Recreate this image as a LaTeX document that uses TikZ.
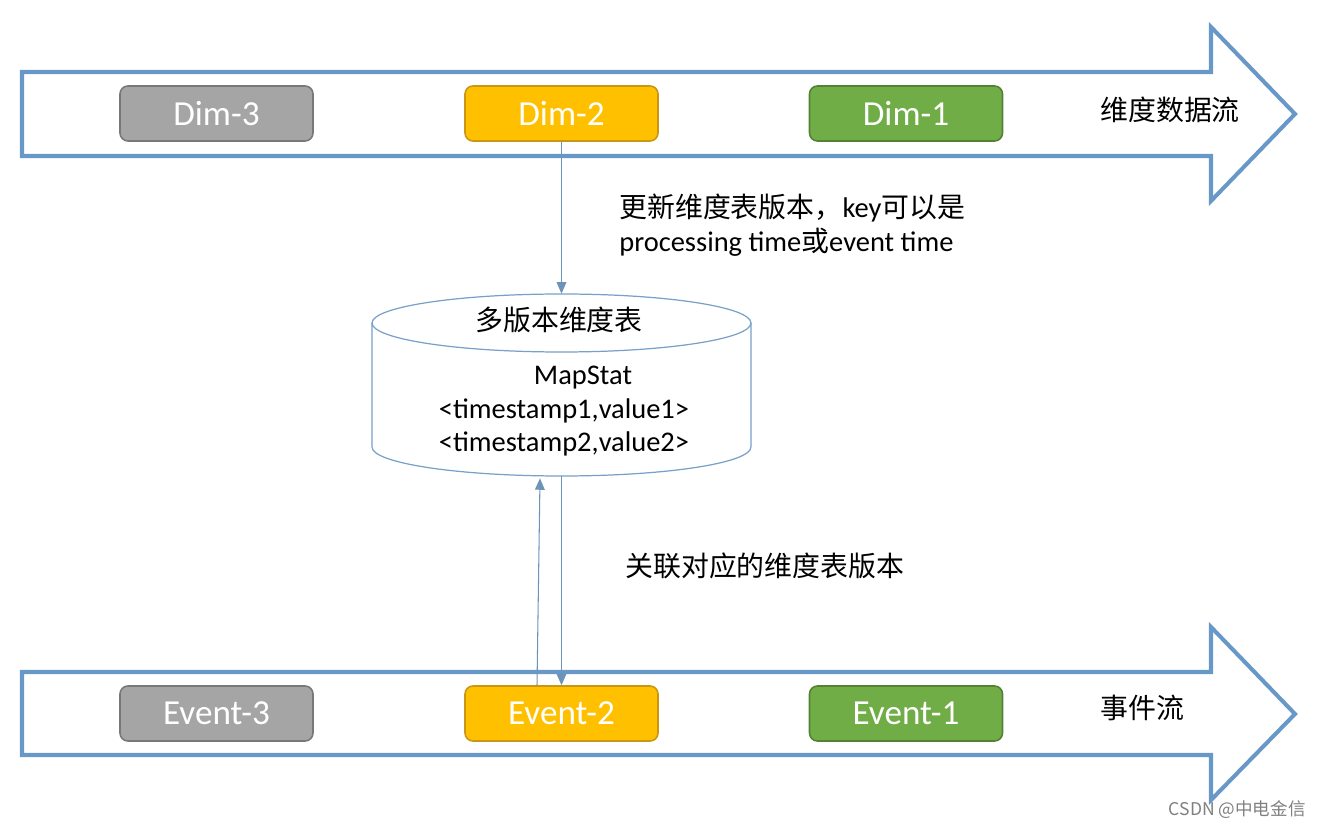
\documentclass[tikz,border=0pt]{standalone}
\usepackage{fontspec}
\setmainfont{Carlito}
\newfontfamily\cjk[Scale=0.98]{Noto Sans CJK SC}
\usetikzlibrary{arrows.meta}

\definecolor{streamblue}{RGB}{104,152,199}
\definecolor{cylblue}{RGB}{120,160,200}
\definecolor{linkblue}{RGB}{110,147,184}
\definecolor{grayfill}{RGB}{165,165,165}
\definecolor{grayedge}{RGB}{120,120,120}
\definecolor{orangefill}{RGB}{255,192,0}
\definecolor{orangeedge}{RGB}{200,152,20}
\definecolor{greenfill}{RGB}{112,173,71}
\definecolor{greenedge}{RGB}{84,130,53}

\begin{document}
\begin{tikzpicture}[x=0.02cm, y=0.02cm,
    stream/.style={draw=streamblue, line width=2.3pt, line join=miter},
    box/.style={rounded corners=4.5pt, line width=0.9pt, minimum width=3.86cm,
      minimum height=1.1cm, inner sep=0pt, text=white, font=\fontsize{20}{24}\selectfont},
    graybox/.style={box, fill=grayfill, draw=grayedge},
    orangebox/.style={box, fill=orangefill, draw=orangeedge},
    greenbox/.style={box, fill=greenfill, draw=greenedge},
    cylline/.style={draw=cylblue, line width=0.7pt},
    label/.style={font=\fontsize{16.2}{19.3}\selectfont, inner sep=0pt},
    link/.style={draw=linkblue, line width=0.6pt, -{Triangle[width=5.5pt,length=6.5pt]}}]
  \useasboundingbox (0,0) rectangle (1322,829);

  % streams
  \draw[stream] (22,673) -- (22,757) -- (1211,757) -- (1211,802) -- (1295,715)
    -- (1211,628) -- (1211,673) -- cycle;
  \draw[stream] (22,74) -- (22,157) -- (1211,157) -- (1211,202) -- (1295,115)
    -- (1211,29) -- (1211,74) -- cycle;

  % dimension records
  \node[graybox] (dim3) at (216.5,715.5) {Dim-3};
  \node[orangebox] (dim2) at (561.5,715.5) {Dim-2};
  \node[greenbox] (dim1) at (906,715.5) {Dim-1};
  \node[label, anchor=west] (dimflow) at (1100,719) {\cjk 维度数据流};

  % event records
  \node[graybox] (ev3) at (216.5,115.5) {Event-3};
  \node[orangebox] (ev2) at (561.5,115.5) {Event-2};
  \node[greenbox] (ev1) at (906,115.5) {Event-1};
  \node[label, anchor=west] (evflow) at (1100,121) {\cjk 事件流};

  % versioned table
  \node[minimum width=7.58cm, minimum height=3.64cm, inner sep=0pt] (tbl) at (561.5,444) {};
  \draw[cylline] (561.5,506) ellipse[x radius=3.79cm, y radius=0.58cm];
  \draw[cylline] (372,506) -- (372,382)
    arc[start angle=180, end angle=360, x radius=3.79cm, y radius=0.58cm] -- (751,506);
  \node[label] (tbltitle) at (559,509) {\cjk 多版本维度表};
  \node[label] (mapstat) at (583,451) {MapStat};
  \node[label] (ts1) at (564,418) {<timestamp1,value1>};
  \node[label] (ts2) at (564,385) {<timestamp2,value2>};

  % links
  \draw[link] (dim2.south) -- (tbl.north);
  \draw[link] (tbl.south) -- (ev2.north);
  \coordinate (upstart) at ([xshift=-0.49cm]ev2.north);
  \coordinate (upend) at ([xshift=-0.43cm, yshift=-0.04cm]tbl.south);
  \draw[link] (upstart) -- (upend);

  \node[label, anchor=west, align=left] (update) at (619,604)
    {{\cjk 更新维度表版本，}key{\cjk 可以是}\\processing time{\cjk 或}event time};
  \node[label, anchor=west] (join) at (625,263) {\cjk 关联对应的维度表版本};

  \node[anchor=east, inner sep=0pt, text=gray, font=\cjk\fontsize{10.2}{12}\selectfont]
    (mark) at (1306,19) {CSDN @中电金信};
\end{tikzpicture}
\end{document}
